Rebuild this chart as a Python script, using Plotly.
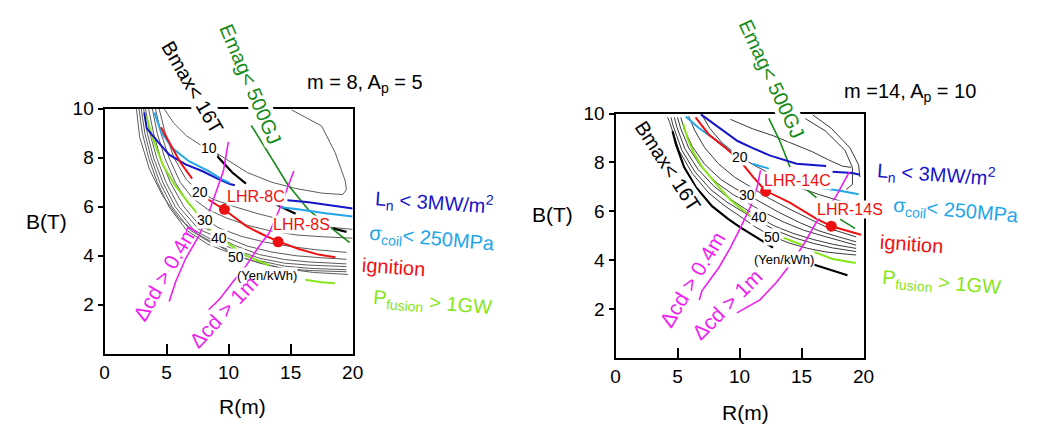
import plotly.graph_objects as go

# The page body has an 8 px default margin, so the figure is drawn 8 px smaller and
# every target pixel position is shifted by that offset.
OFF = 8
W, H = 1039 - OFF, 430 - OFF
FONT = "Liberation Sans, Arial, sans-serif"

# ---------------- data : left panel (m = 8, Ap = 5) ----------------
x_ticks = [0, 5, 10, 15, 20]
y_ticks = [2, 4, 6, 8, 10]

L_COE_10 = [(4.8, 10.0), (5.6, 9.4), (6.6, 8.9), (7.8, 8.5), (8.39, 8.4), (9.0, 8.2), (10.3, 7.8),
            (11.5, 7.4), (13.5, 7.0), (15.4, 6.75), (17.5, 6.56), (19.2, 6.5), (19.5, 6.7),
            (19.4, 7.06), (18.6, 8.2), (17.5, 9.3), (15.1, 9.95)]
L_COE_20 = [(4.4, 10.0), (4.9, 9.0), (5.6, 8.0), (6.6, 7.1), (7.7, 6.6), (8.8, 6.3), (10.5, 6.0),
            (12.5, 5.7), (14.5, 5.45), (16.5, 5.28), (18.5, 5.15), (20.0, 5.08)]
L_COE_25 = [(4.1, 10.0), (4.55, 9.0), (5.2, 8.0), (6.1, 7.0), (7.1, 6.35), (8.3, 5.9), (9.8, 5.55),
            (11.5, 5.25), (13.5, 5.0), (15.5, 4.85), (17.5, 4.78), (20.0, 4.72)]
L_COE_30 = [(3.85, 10.0), (4.25, 9.0), (4.85, 8.0), (5.7, 7.0), (6.8, 6.1), (8.1, 5.48), (9.3, 5.12),
            (11.0, 4.8), (13.0, 4.55), (15.0, 4.38), (17.0, 4.25), (19.5, 4.14)]
L_COE_35 = [(3.55, 10.0), (3.95, 9.0), (4.5, 8.0), (5.3, 7.0), (6.4, 6.0), (7.7, 5.22), (9.3, 4.86),
            (11.5, 4.4), (13.5, 4.15), (15.5, 4.0), (17.5, 3.92), (19.5, 3.86)]
L_COE_40 = [(3.3, 10.0), (3.65, 9.0), (4.2, 8.0), (4.95, 7.0), (6.0, 6.0), (7.6, 5.08), (9.2, 4.74),
            (10.6, 4.4), (12.5, 4.05), (14.5, 3.85), (16.5, 3.75), (19.5, 3.67)]
L_COE_42 = [(3.15, 10.0), (3.45, 9.0), (3.95, 8.0), (4.7, 7.0), (5.7, 6.0), (7.2, 5.05), (8.8, 4.62),
            (10.5, 4.25), (12.5, 3.9), (14.5, 3.7), (16.5, 3.62), (19.5, 3.56)]
L_COE_45 = [(2.96, 10.0), (3.25, 9.0), (3.75, 8.0), (4.45, 7.0), (5.45, 6.0), (6.9, 5.05), (8.6, 4.52),
            (10.5, 4.15), (12.5, 3.8), (14.5, 3.58), (16.5, 3.49), (19.5, 3.43)]
L_COE_47 = [(2.78, 10.0), (3.05, 9.0), (3.55, 8.0), (4.25, 7.0), (5.2, 6.0), (6.6, 5.05), (8.3, 4.48),
            (10.3, 4.08), (12.5, 3.7), (14.5, 3.48), (16.5, 3.4), (19.5, 3.35)]
L_COE_50 = [(2.57, 10.0), (2.83, 8.84), (3.63, 7.52), (4.68, 6.45), (6.0, 5.53), (7.6, 4.86),
            (9.18, 4.42), (10.6, 4.0), (11.56, 3.85), (14.2, 3.5), (16.85, 3.32), (19.63, 3.24)]

L_BMAX = [(8.4, 8.7), (9.2, 8.0), (10.3, 7.4), (11.4, 6.95), None,
          (13.8, 6.1), (14.4, 5.95), (15.4, 5.72), None, (18.4, 5.12), (19.5, 4.98)]
L_LN = [(3.2, 9.85), (3.4, 9.2), (4.29, 8.66), (5.21, 8.13), (6.53, 7.73), (7.86, 7.46), (9.18, 7.13),
        (10.1, 6.93), (10.5, 6.88), None, (14.74, 6.27), (16.3, 6.2), (18.6, 6.03), (20.0, 5.93)]
L_SIGMA = [(4.02, 9.85), (4.55, 9.06), (5.48, 8.39), (6.8, 7.86), (8.39, 7.46), (9.44, 7.13), (10.1, 6.98),
           None, (14.2, 5.98), (15.6, 5.9), (17.8, 5.74), (20.0, 5.6)]
L_IGN = [(4.55, 9.25), (5.21, 8.62), (6.1, 7.82), (7.06, 7.15), None, (8.2, 6.35), (9.6, 5.9),
         (11.43, 5.21), (12.75, 4.87), (13.94, 4.6), (15.66, 4.28), (17.25, 4.05), (18.6, 3.94)]
L_PFUS = [(3.36, 9.72), (3.89, 8.79), (4.68, 7.73), (5.61, 6.93), (6.8, 6.14), (7.46, 5.74), None,
          (8.39, 5.14), (8.65, 5.01), None, (9.84, 4.54), (11.43, 4.01), (13.28, 3.61), None,
          (16.19, 3.02), (17.5, 2.92), (18.57, 2.88)]
L_EMAG = [(11.83, 9.32), (13.28, 8.13), (14.74, 6.93), (16.45, 5.87), (17.78, 5.34), (19.76, 4.54)]
L_CD04 = [(5.21, 2.14), (5.74, 2.95), (6.53, 3.88), (7.6, 4.81), (8.39, 5.74), (9.05, 6.67), (9.58, 7.46),
          (9.98, 8.65)]
L_CD1 = [(8.39, 1.8), (9.3, 2.25), (10.37, 2.95), (11.43, 3.61), (12.49, 4.41), (13.28, 4.94),
         (14.07, 5.87), (14.74, 6.8), (15.26, 7.46)]
L_DESIGN_R = [9.66, 13.99]
L_DESIGN_B = [5.9, 4.57]
L_LEVEL_TEXT = ["10", "20", "30", "40", "50", "(Yen/kWh)"]
L_LEVEL_R = [8.39, 7.7, 8.1, 9.2, 10.6, 13.1]
L_LEVEL_B = [8.4, 6.6, 5.46, 4.74, 3.94, 3.2]

# ---------------- data : right panel (m = 14, Ap = 10) ----------------
R_COE_A = [(4.2, 9.85), (4.34, 9.68), (5.13, 8.48), (6.19, 7.55), (7.52, 6.75), (8.84, 6.21), (10.03, 5.8),
           (11.3, 5.35), (12.62, 4.98), (14.0, 4.7), (15.5, 4.48), (17.0, 4.33), (18.5, 4.25), (19.4, 4.21)]
R_COE_B = [(4.47, 9.85), (4.65, 9.5), (5.35, 8.5), (6.4, 7.62), (7.7, 6.88), (9.0, 6.37), (10.2, 6.0),
           (11.5, 5.6), (13.0, 5.2), (14.5, 4.9), (16.0, 4.68), (17.5, 4.5), (19.4, 4.35)]
R_COE_C = [(4.74, 9.85), (4.95, 9.45), (5.6, 8.55), (6.65, 7.72), (7.95, 7.02), (9.2, 6.52), (10.4, 6.12),
           (11.56, 5.75), (12.8, 5.4), (14.3, 5.1), (15.9, 4.85), (17.6, 4.64), (19.4, 4.48)]
R_COE_D = [(5.0, 9.85), (5.25, 9.4), (5.9, 8.6), (6.9, 7.82), (8.2, 7.15), (9.5, 6.68), (10.8, 6.3),
           (12.2, 5.9), (13.6, 5.55), (15.2, 5.22), (16.8, 4.98), (18.3, 4.78), (19.4, 4.61)]
R_COE_E = [(5.26, 9.85), (5.55, 9.35), (6.2, 8.65), (7.2, 7.92), (8.5, 7.3), (9.6, 6.95), (10.63, 6.68),
           (11.8, 6.35), (13.2, 5.95), (14.8, 5.55), (16.4, 5.2), (18.0, 4.95), (19.4, 4.75)]
R_COE_F = [(5.9, 9.9), (6.4, 9.3), (7.2, 8.6), (8.3, 7.95), (9.6, 7.4), (11.0, 6.95), (12.5, 6.5),
           (14.0, 6.1), (15.6, 5.7), (17.2, 5.3), (18.6, 5.08), (19.4, 4.95)]
R_COE_G = [(6.9, 10.0), (7.6, 9.4), (8.6, 8.8), (10.06, 8.21), (11.5, 7.8), (12.8, 7.45), (14.34, 7.05),
           (16.45, 6.68), (18.57, 6.35), (19.9, 6.1)]
R_COE_H = [(9.26, 9.77), (11.1, 9.37), (12.7, 9.1), (14.29, 8.77), (15.87, 8.44), (17.2, 8.1),
           (18.3, 7.85), (19.0, 7.8)]
R_COE_I = [(15.3, 9.8), (16.9, 9.3), (18.5, 8.5), (19.1, 7.8), (19.1, 7.1), (18.6, 6.9)]
R_COE_J = [(15.9, 9.95), (17.4, 9.4), (18.9, 8.6), (19.6, 7.9), (19.7, 7.4)]

R_BMAX = [(4.6, 9.28), (4.87, 8.75), (5.53, 7.81), (6.45, 7.01), (7.78, 6.21), (9.1, 5.68), (10.03, 5.35),
          (11.64, 4.84), (12.7, 4.51), None, (15.9, 3.83), (17.3, 3.6), (18.7, 3.38)]
R_LN = [(6.88, 9.97), (7.94, 9.57), (9.26, 9.1), (9.84, 8.88), (11.11, 8.58), (12.48, 8.28), (14.6, 7.95),
        (16.98, 7.86), None, (17.5, 7.62), (19.1, 7.57), (19.7, 7.5)]
R_SIGMA = [(5.66, 9.88), (6.72, 9.41), (8.57, 8.75), (9.37, 8.41), None, (11.03, 7.95), (12.36, 7.75),
           None, (16.5, 6.95), (18.0, 6.85), (19.6, 6.7)]
R_IGN = [(6.45, 9.85), (7.52, 9.15), (8.84, 8.61), (10.03, 8.08), (11.1, 7.4), (12.1, 6.84), (14.02, 6.37),
         (16.14, 5.71), (17.4, 5.39), (19.8, 5.04)]
R_PFUS = [(5.45, 9.6), (5.8, 9.0), (6.3, 8.4), (6.98, 7.81), (8.31, 7.01), (9.3, 6.45), (10.03, 6.14),
          (10.9, 5.81), None, (13.55, 4.91), (15.13, 4.61), None, (15.93, 4.35), (17.5, 4.05), (19.37, 3.88)]
R_EMAG = [(12.36, 9.81), (13.23, 8.9), (14.07, 7.81), None, (15.5, 6.85), (16.2, 6.56), None,
          (18.1, 5.68), (19.3, 5.3)]
R_CD04 = [(6.75, 2.37), (6.98, 2.75), (8.31, 3.68), (9.23, 4.48), (10.03, 5.28), (10.9, 6.21), (11.43, 7.01),
          (11.69, 7.68)]
R_CD1 = [(9.79, 1.84), (11.64, 2.37), (13.0, 3.1), (14.07, 3.81), (15.13, 4.61), (16.19, 5.55), (17.78, 6.61),
         (18.84, 7.61)]
R_DESIGN_R = [12.1, 17.4]
R_DESIGN_B = [6.82, 5.39]
R_LEVEL_TEXT = ["20", "30", "40", "50", "(Yen/kWh)"]
R_LEVEL_R = [10.06, 10.63, 11.56, 12.62, 13.55]
R_LEVEL_B = [8.21, 6.68, 5.75, 4.95, 4.01]

# ---------------- styles ----------------
C_GRAY_L = "#5c5c5c"
C_GRAY_R = "#3a3a3a"
C_BLUE = "#1515c8"
C_CYAN = "#22a6ea"
C_RED = "#ee1111"
C_LIME = "#86e61a"
C_DGREEN = "#178a17"
C_MAG = "#f01ef0"
C_BLACK = "#000000"


def xy(points):
    xs, ys = [], []
    for p in points:
        if p is None:
            xs.append(None)
            ys.append(None)
        else:
            xs.append(p[0])
            ys.append(p[1])
    return xs, ys


def px(x):
    return (x - OFF) / W


def py(y):
    return 1 - (y - OFF) / H


fig = go.Figure()


def add_line(points, color, width, panel):
    xs, ys = xy(points)
    fig.add_trace(go.Scatter(x=xs, y=ys, mode="lines", line=dict(color=color, width=width),
                             hoverinfo="skip", showlegend=False,
                             xaxis="x" if panel == 1 else "x2", yaxis="y" if panel == 1 else "y2"))


for c in [L_COE_10, L_COE_20, L_COE_25, L_COE_30, L_COE_35, L_COE_40, L_COE_42, L_COE_45, L_COE_47, L_COE_50]:
    add_line(c, C_GRAY_L, 1, 1)
for c in [R_COE_A, R_COE_B, R_COE_C, R_COE_D, R_COE_E, R_COE_F, R_COE_G, R_COE_H, R_COE_I, R_COE_J]:
    add_line(c, C_GRAY_R, 1, 2)

for panel, sets in [(1, [L_BMAX, L_EMAG, L_PFUS, L_LN, L_SIGMA, L_IGN, L_CD04, L_CD1]),
                    (2, [R_BMAX, R_EMAG, R_PFUS, R_LN, R_SIGMA, R_IGN, R_CD04, R_CD1])]:
    bm, em, pf, ln, sg, ig, c04, c1 = sets
    add_line(bm, C_BLACK, 2.2, panel)
    add_line(em, C_DGREEN, 1.6, panel)
    add_line(pf, C_LIME, 2, panel)
    add_line(ln, C_BLUE, 2, panel)
    add_line(sg, C_CYAN, 2, panel)
    add_line(ig, C_RED, 2, panel)
    add_line(c04, C_MAG, 1.6, panel)
    add_line(c1, C_MAG, 1.6, panel)

fig.add_trace(go.Scatter(x=L_DESIGN_R, y=L_DESIGN_B, mode="markers", marker=dict(color=C_RED, size=11),
                         showlegend=False, hoverinfo="skip", xaxis="x", yaxis="y"))
fig.add_trace(go.Scatter(x=R_DESIGN_R, y=R_DESIGN_B, mode="markers", marker=dict(color=C_RED, size=11),
                         showlegend=False, hoverinfo="skip", xaxis="x2", yaxis="y2"))

ann = []


def data_text(text, x, y, panel, size=14, color="black", bg="white"):
    ann.append(dict(text=text, x=x, y=y, xref="x" if panel == 1 else "x2", yref="y" if panel == 1 else "y2",
                    showarrow=False, font=dict(family=FONT, size=size, color=color),
                    bgcolor=bg, borderpad=0, xanchor="center", yanchor="middle"))


def pix_text(text, x, y, size=20, color="black", angle=0, bg=None):
    d = dict(text=text, x=px(x), y=py(y), xref="paper", yref="paper", showarrow=False,
             font=dict(family=FONT, size=size, color=color), textangle=angle,
             xanchor="center", yanchor="middle", borderpad=0)
    if bg:
        d["bgcolor"] = bg
    ann.append(d)


for t, x, y in zip(L_LEVEL_TEXT, L_LEVEL_R, L_LEVEL_B):
    data_text(t, x, y, 1, size=14 if t[0] != "(" else 13)
for t, x, y in zip(R_LEVEL_TEXT, R_LEVEL_R, R_LEVEL_B):
    data_text(t, x, y, 2, size=14 if t[0] != "(" else 13)

data_text("LHR-8C", 12.2, 6.42, 1, size=16, color=C_RED)
data_text("LHR-8S", 15.9, 5.26, 1, size=16, color=C_RED)
data_text("LHR-14C", 14.67, 7.28, 2, size=16, color=C_RED)
pix_text("LHR-14S", 858, 204, size=16, color=C_RED, bg="white")

# rotated labels
pix_text("Bmax&lt; 16T", 190, 79, size=20, angle=60, bg="white")
pix_text("Emag&lt; 500GJ", 249, 76, size=20, color=C_DGREEN, angle=67, bg="white")
pix_text("Bmax&lt; 16T", 673, 160, size=20, angle=57, bg="white")
pix_text("Emag&lt; 500GJ", 779, 70, size=20, color=C_DGREEN, angle=65, bg="white")
pix_text("Δcd &gt; 0.4m", 163, 269, size=21, color=C_MAG, angle=-60)
pix_text("Δcd &gt; 1m", 222, 309, size=21, color=C_MAG, angle=-47)
pix_text("Δcd &gt; 0.4m", 698, 276, size=21, color=C_MAG, angle=-59)
pix_text("Δcd &gt; 1m", 733, 301, size=21, color=C_MAG, angle=-45)

# panel titles
pix_text("m = 8, A<sub>p</sub> = 5", 366, 75, size=20)
pix_text("m =14, A<sub>p</sub> = 10", 919, 84, size=20)

# constraint legends
for (cx, cy), (sx, sy), (ix, iy), (fx, fy) in [((436, 197), (434, 235), (395, 263), (434, 300)),
                                                ((946, 168), (966, 206), (921, 239), (951, 280))]:
    pix_text("L<sub>n</sub> &lt; 3MW/m<sup>2</sup>", cx, cy, size=20, color=C_BLUE, angle=4)
    pix_text("σ<sub>coil</sub>&lt; 250MPa", sx, sy, size=20, color=C_CYAN, angle=5)
    pix_text("ignition", ix, iy, size=20, color=C_RED, angle=4)
    pix_text("P<sub>fusion</sub> &gt; 1GW", fx, fy, size=20, color=C_LIME, angle=5)

# axis titles
pix_text("B(T)", 42, 216, size=21)
pix_text("B(T)", 556, 209, size=21)
pix_text("R(m)", 241, 406, size=21)
pix_text("R(m)", 752, 412, size=21)

xcommon = dict(range=[0, 20], tickvals=x_ticks, ticks="inside", ticklen=10, tickwidth=1.5, tickcolor="black",
               showline=True, linecolor="black", linewidth=2, mirror=True, showgrid=False, zeroline=False,
               tickfont=dict(family=FONT, size=19, color="black"), ticklabelstandoff=0, fixedrange=True)
ycommon = dict(range=[0, 10], tickvals=y_ticks, ticks="outside", ticklen=5, tickwidth=1.5, tickcolor="black",
               showline=True, linecolor="black", linewidth=2, mirror=True, showgrid=False, zeroline=False,
               tickfont=dict(family=FONT, size=19, color="black"), ticklabelstandoff=0, fixedrange=True)

fig.update_layout(
    width=W, height=H, margin=dict(l=0, r=0, t=0, b=0),
    paper_bgcolor="white", plot_bgcolor="white", showlegend=False,
    xaxis=dict(domain=[px(101), px(353)], anchor="y", **xcommon),
    yaxis=dict(domain=[py(352), py(101)], anchor="x", **ycommon),
    xaxis2=dict(domain=[px(620), px(872)], anchor="y2", **xcommon),
    yaxis2=dict(domain=[py(356), py(106)], anchor="x2", **ycommon),
    annotations=ann,
)

fig.write_html("out.html")
